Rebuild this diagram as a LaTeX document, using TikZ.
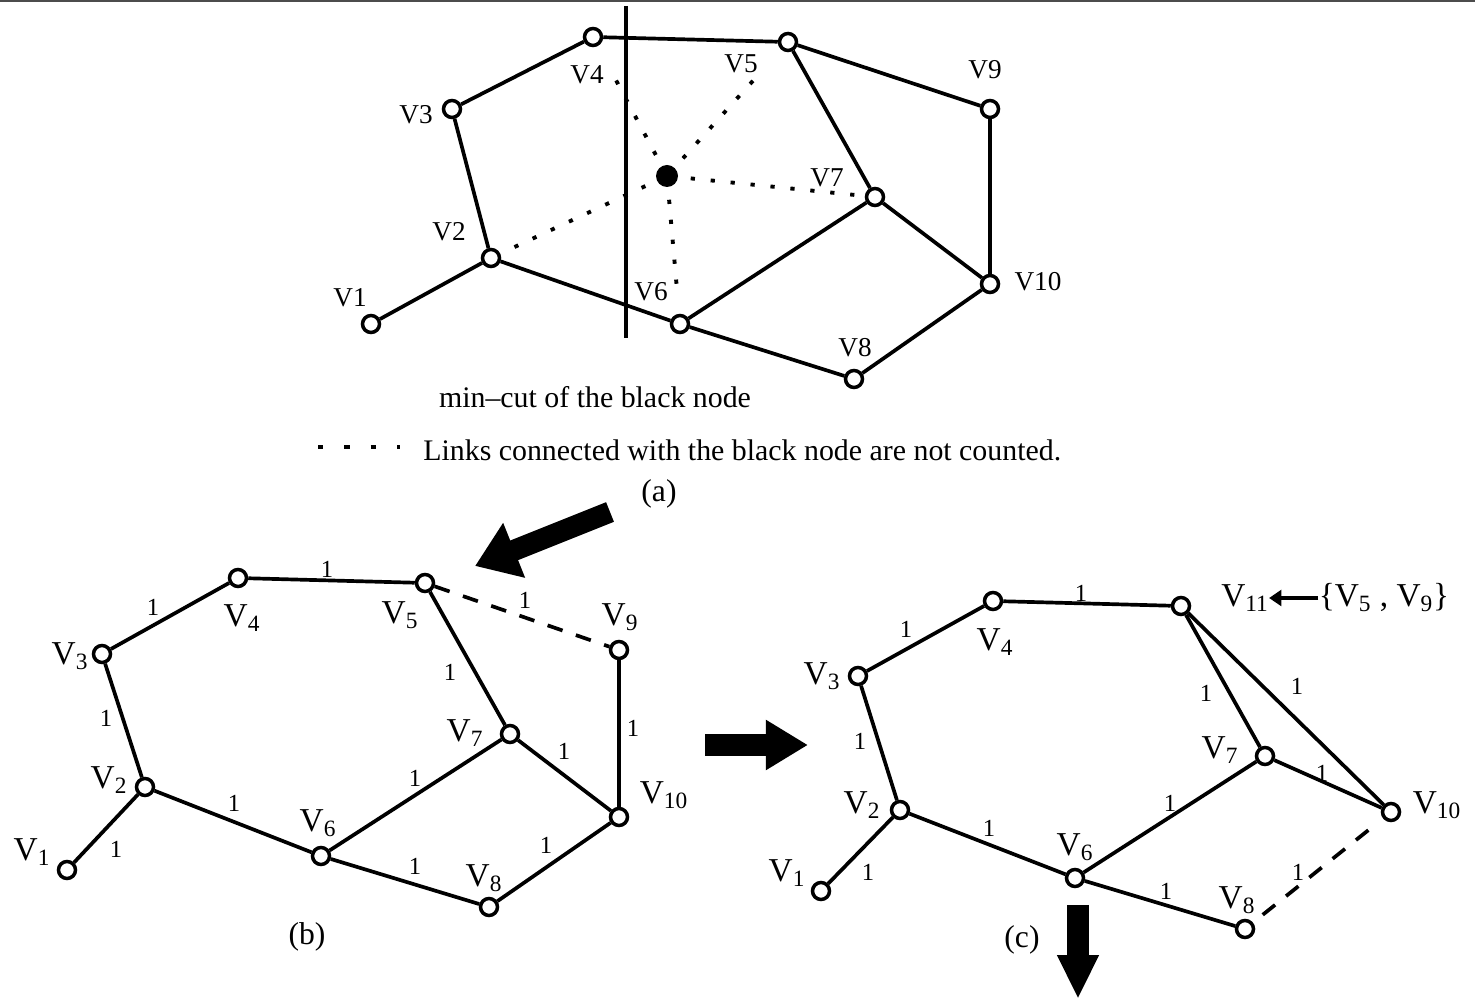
\documentclass[tikz,border=0pt]{standalone}
\usepackage{fontspec}
\setmainfont{Liberation Serif}
\usetikzlibrary{arrows.meta}

\begin{document}
\begin{tikzpicture}[x=0.02cm,y=-0.02cm]
\tikzset{
  vert/.style={circle,draw,line width=2pt,fill=white,minimum size=0.34cm,inner sep=0pt},
  hub/.style={circle,fill=black,minimum size=0.44cm,inner sep=0pt},
  link/.style={line width=2.1pt},
  freelink/.style={line width=2.2pt,dash pattern=on 2.4pt off 9pt},
  droplink/.style={line width=2.1pt,dash pattern=on 9pt off 8pt},
  lab/.style={font=\fontsize{15.5}{18}\selectfont,inner sep=0pt},
  sublab/.style={font=\fontsize{19}{22}\selectfont,inner sep=0pt},
  wt/.style={font=\fontsize{14}{16}\selectfont,inner sep=0pt},
  caption/.style={font=\fontsize{17}{20}\selectfont,inner sep=0pt},
  fat/.style={line width=12pt,-{Triangle[length=24pt,width=32pt]}}
}
\useasboundingbox (0,0) rectangle (1475,999);
\draw[black!70,line width=1.2pt] (0,1) -- (1475,1);
% (a)
\node[vert] (a1) at (371,324) {};
\node[vert] (a2) at (491,258) {};
\node[vert] (a3) at (452,109) {};
\node[vert] (a4) at (593,37) {};
\node[vert] (a5) at (788,42) {};
\node[vert] (a6) at (680,324) {};
\node[vert] (a7) at (875,197) {};
\node[vert] (a8) at (854,379) {};
\node[vert] (a9) at (990,109) {};
\node[vert] (a10) at (990,284) {};
\node[hub] (blk) at (667,176) {};
\node[lab] (la1) at (350,298) {V1};
\node[lab] (la2) at (449,232) {V2};
\node[lab] (la3) at (416,115) {V3};
\node[lab] (la4) at (587,75) {V4};
\node[lab] (la5) at (741,64) {V5};
\node[lab] (la6) at (651,292) {V6};
\node[lab] (la7) at (827,178) {V7};
\node[lab] (la8) at (855,348) {V8};
\node[lab] (la9) at (985,70) {V9};
\node[lab] (la10) at (1038,282) {V10};
\coordinate (cut_t) at (626,6);
\coordinate (cut_b) at (626,338);
\draw[line width=2.4pt] (cut_t) -- (cut_b);
\draw[link] (a1) -- (a2);
\draw[link] (a2) -- (a3);
\draw[link] (a3) -- (a4);
\draw[link] (a4) -- (a5);
\draw[link] (a5) -- (a9);
\draw[link] (a5) -- (a7);
\draw[link] (a9) -- (a10);
\draw[link] (a7) -- (a10);
\draw[link] (a7) -- (a6);
\draw[link] (a2) -- (a6);
\draw[link] (a6) -- (a8);
\draw[link] (a8) -- (a10);
\draw[freelink,shorten <=0.25cm,shorten >=0.7cm] (blk) -- (a4);
\draw[freelink,shorten <=0.25cm,shorten >=0.6cm] (blk) -- (a5);
\draw[freelink,shorten <=0.25cm,shorten >=0.1cm] (blk) -- (a7);
\draw[freelink,shorten <=0.25cm,shorten >=0.4cm] (blk) -- (a6);
\draw[freelink,shorten <=0.25cm,shorten >=0.1cm] (blk) -- (a2);
\node[caption] (mincut) at (595,397) {min\textendash cut of the black node};
\coordinate (leg_a) at (318,447);
\coordinate (leg_b) at (400,447);
\draw[line width=2.4pt,dash pattern=on 3pt off 12pt] (leg_a) -- (leg_b);
\node[caption,anchor=west] (legend) at (423,450) {Links connected with the black node are not counted.};
\node[caption,font=\fontsize{18}{21}\selectfont] (capa) at (659,494) {(a)};
\coordinate (ab_s) at (610,512);
\coordinate (ab_e) at (475,566);
\draw[fat] (ab_s) -- (ab_e);
% (b)
\node[vert] (b1) at (67,870) {};
\node[vert] (b2) at (145,787) {};
\node[vert] (b3) at (102,654) {};
\node[vert] (b4) at (238,578) {};
\node[vert] (b5) at (425,583) {};
\node[vert] (b6) at (321,856) {};
\node[vert] (b7) at (510,734) {};
\node[vert] (b8) at (489,907) {};
\node[vert] (b9) at (619,650) {};
\node[vert] (b10) at (619,817) {};
\node[sublab] (lb1) at (32,852) {V\textsubscript{1}};
\node[sublab] (lb2) at (109,780) {V\textsubscript{2}};
\node[sublab] (lb3) at (70,656) {V\textsubscript{3}};
\node[sublab] (lb4) at (242,618) {V\textsubscript{4}};
\node[sublab] (lb5) at (400,615) {V\textsubscript{5}};
\node[sublab] (lb6) at (318,823) {V\textsubscript{6}};
\node[sublab] (lb7) at (465,733) {V\textsubscript{7}};
\node[sublab] (lb8) at (484,878) {V\textsubscript{8}};
\node[sublab] (lb9) at (620,617) {V\textsubscript{9}};
\node[sublab] (lb10) at (664,795) {V\textsubscript{10}};
\draw[link] (b1) -- (b2);
\draw[link] (b2) -- (b3);
\draw[link] (b3) -- (b4);
\draw[link] (b4) -- (b5);
\draw[link] (b5) -- (b7);
\draw[link] (b9) -- (b10);
\draw[link] (b7) -- (b10);
\draw[link] (b7) -- (b6);
\draw[link] (b2) -- (b6);
\draw[link] (b6) -- (b8);
\draw[link] (b8) -- (b10);
\draw[droplink] (b5) -- (b9);
\node[wt] (wb1) at (116,849) {1};
\node[wt] (wb2) at (106,718) {1};
\node[wt] (wb3) at (153,607) {1};
\node[wt] (wb4) at (327,569) {1};
\node[wt] (wb5) at (525,600) {1};
\node[wt] (wb6) at (450,672) {1};
\node[wt] (wb7) at (633,728) {1};
\node[wt] (wb8) at (564,751) {1};
\node[wt] (wb9) at (415,778) {1};
\node[wt] (wb10) at (234,803) {1};
\node[wt] (wb11) at (415,866) {1};
\node[wt] (wb12) at (546,845) {1};
\node[caption,font=\fontsize{18}{21}\selectfont] (capb) at (307,937) {(b)};
\coordinate (bc_s) at (705,745);
\coordinate (bc_e) at (808,745);
\draw[line width=13pt,-{Triangle[length=24pt,width=27pt]}] (bc_s) -- (bc_e);
% (c)
\node[vert] (c1) at (821,891) {};
\node[vert] (c2) at (900,810) {};
\node[vert] (c3) at (858,676) {};
\node[vert] (c4) at (993,601) {};
\node[vert] (c11) at (1181,606) {};
\node[vert] (c6) at (1075,878) {};
\node[vert] (c7) at (1265,756) {};
\node[vert] (c8) at (1245,929) {};
\node[vert] (c10) at (1391,812) {};
\node[sublab] (lc1) at (787,873) {V\textsubscript{1}};
\node[sublab] (lc2) at (862,805) {V\textsubscript{2}};
\node[sublab] (lc3) at (822,676) {V\textsubscript{3}};
\node[sublab] (lc4) at (995,642) {V\textsubscript{4}};
\node[sublab] (lc6) at (1075,847) {V\textsubscript{6}};
\node[sublab] (lc7) at (1220,750) {V\textsubscript{7}};
\node[sublab] (lc8) at (1237,900) {V\textsubscript{8}};
\node[sublab] (lc10) at (1437,805) {V\textsubscript{10}};
\node[sublab] (lc11) at (1245,598) {V\textsubscript{11}};
\node[sublab] (merge) at (1384,598) {\{V\textsubscript{5} , V\textsubscript{9}\}};
\draw[line width=2pt,-{Triangle[length=7pt,width=9pt]}] (merge.west) -- (lc11.east);
\draw[link] (c1) -- (c2);
\draw[link] (c2) -- (c3);
\draw[link] (c3) -- (c4);
\draw[link] (c4) -- (c11);
\draw[link] (c11) -- (c7);
\draw[link] (c11) -- (c10);
\draw[link] (c7) -- (c10);
\draw[link] (c7) -- (c6);
\draw[link] (c2) -- (c6);
\draw[link] (c6) -- (c8);
\draw[droplink,shorten <=0.25cm,shorten >=0.1cm] (c8) -- (c10);
\node[wt] (wc1) at (868,872) {1};
\node[wt] (wc2) at (860,741) {1};
\node[wt] (wc3) at (906,629) {1};
\node[wt] (wc4) at (1081,593) {1};
\node[wt] (wc5) at (1206,693) {1};
\node[wt] (wc6) at (1297,686) {1};
\node[wt] (wc7) at (1322,773) {1};
\node[wt] (wc8) at (1170,803) {1};
\node[wt] (wc9) at (989,828) {1};
\node[wt] (wc10) at (1166,891) {1};
\node[wt] (wc11) at (1298,872) {1};
\node[caption,font=\fontsize{18}{21}\selectfont] (capc) at (1022,940) {(c)};
\coordinate (cd_s) at (1078,905);
\coordinate (cd_e) at (1078,999);
\draw[line width=12pt,-{Triangle[length=25pt,width=22pt]}] (cd_s) -- (cd_e);
\end{tikzpicture}
\end{document}
